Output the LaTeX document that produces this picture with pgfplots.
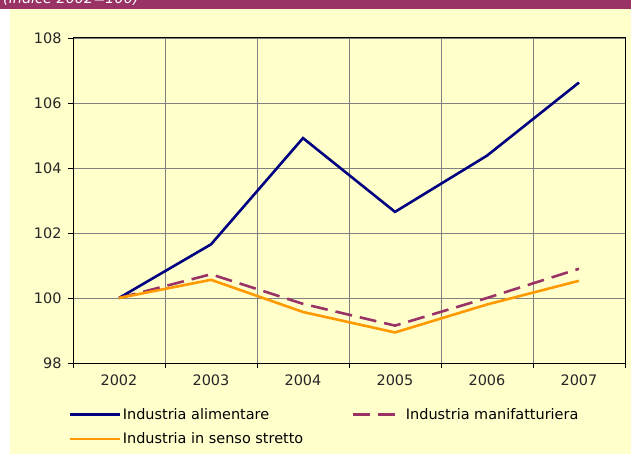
\documentclass[border=0pt]{standalone}
\usepackage{fontspec}
\setmainfont{DejaVu Sans}
\usepackage{pgfplots}
\pgfplotsset{compat=1.18}

\definecolor{bgyellow}{RGB}{255,255,204}
\definecolor{band}{RGB}{153,51,102}
\definecolor{alim}{RGB}{0,0,128}
\definecolor{manif}{RGB}{153,51,102}
\definecolor{stretto}{RGB}{255,153,0}
\definecolor{gridgray}{RGB}{128,128,128}

\newcommand\chartfont{\fontsize{14.5}{17}\selectfont}

\begin{document}
\begin{tikzpicture}
% page background, yellow panel and the purple header band
\fill[white] (0,0) rectangle (631bp,454bp);
\fill[bgyellow] (10bp,0) rectangle (631bp,445bp);
\fill[band] (0,445bp) rectangle (631bp,454bp);
\begin{scope}
\clip (0,445bp) rectangle (631bp,454bp);
\node[overlay, anchor=base west, white, inner sep=0pt, font=\chartfont\itshape] at (3bp,450.5bp) {(indice 2002=100)};
\end{scope}

\begin{axis}[
at={(73bp,91bp)}, anchor=south west,
scale only axis, width=552bp, height=325bp,
xmin=-0.5, xmax=5.5, ymin=98, ymax=108,
xtick={-0.5,0.5,...,5.5}, xticklabels={},
extra x ticks={0,1,2,3,4,5},
extra x tick labels={2002,2003,2004,2005,2006,2007},
extra x tick style={major tick length=0pt, grid=none},
ytick={98,100,...,108},
xmajorgrids, ymajorgrids,
grid style={gridgray, line width=0.8bp},
tick pos=left,
tick align=outside, major tick length=5bp,
tick style={black, line width=0.8bp},
axis line style={black, line width=1bp},
/pgf/number format/assume math mode=true,
tick label style={font=\chartfont, text=black!85},
xticklabel style={yshift=-8bp},
yticklabel style={xshift=-3bp},
legend columns=2,
legend cell align=left,
legend image code/.code={\draw[#1] (0bp,0bp) -- (50bp,0bp);},
legend style={draw=none, fill=none, font=\chartfont,
  at={(rel axis cs:-0.009,-0.132)}, anchor=north west,
  inner sep=0pt, row sep=8bp,
  nodes={inner sep=2bp},
  /tikz/every even column/.append style={column sep=46bp}},
]
\addplot[alim, line width=2.6bp] coordinates {(0,100) (1,101.65) (2,104.92) (3,102.65) (4,104.38) (5,106.63)};
\addlegendentry{Industria alimentare}
\addplot[manif, line width=2.6bp, dash pattern=on 17bp off 8bp] coordinates {(0,100) (1,100.73) (2,99.82) (3,99.15) (4,100.0) (5,100.9)};
\addlegendentry{Industria manifatturiera}
\addplot[stretto, line width=2.6bp] coordinates {(0,100) (1,100.56) (2,99.57) (3,98.94) (4,99.8) (5,100.53)};
\addlegendentry{Industria in senso stretto}
\end{axis}
\end{tikzpicture}
\end{document}
